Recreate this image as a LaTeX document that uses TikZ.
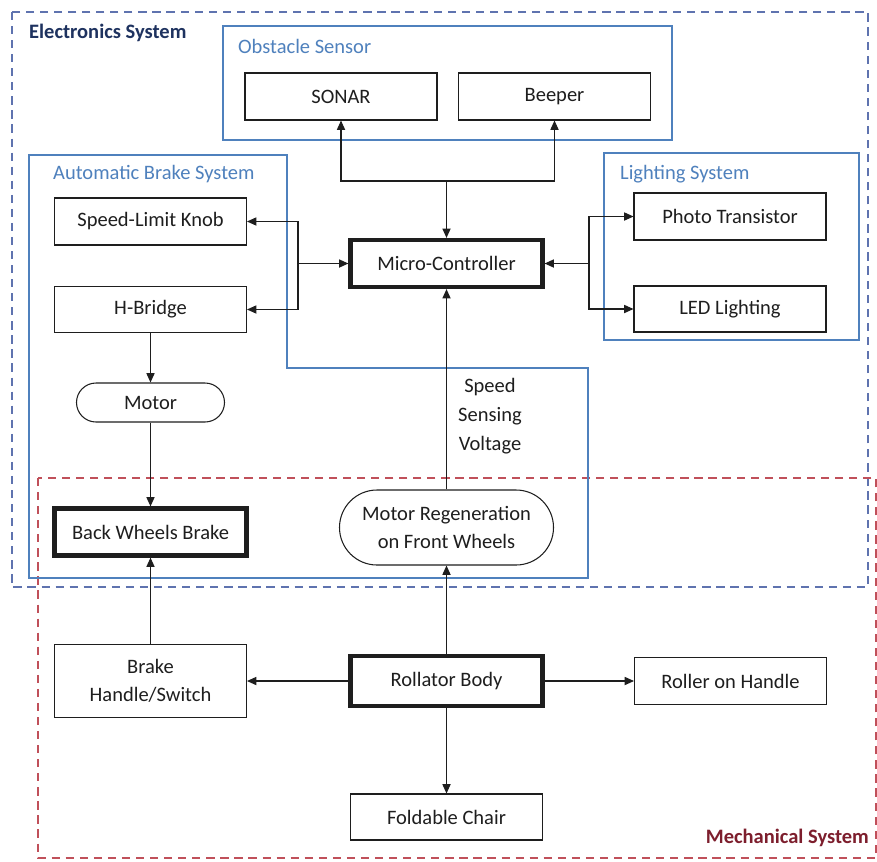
\documentclass[tikz,border=0pt]{standalone}
\usepackage{fontspec}
\setmainfont{Carlito}
\usetikzlibrary{arrows.meta}

\definecolor{elecblue}{RGB}{95,115,175}
\definecolor{groupblue}{RGB}{79,129,189}
\definecolor{mechred}{RGB}{192,80,90}
\definecolor{elecnavy}{RGB}{30,50,95}
\definecolor{mechdark}{RGB}{125,30,45}
\definecolor{boxgray}{RGB}{30,30,30}

\tikzset{
  blockbox/.style={draw=boxgray, line width=0.9pt, minimum width=5.76cm, minimum height=1.41cm,
    text=boxgray, font=\fontsize{17.5}{24}\selectfont, align=center, inner sep=0pt},
  keybox/.style={blockbox, line width=3.6pt},
  conn/.style={draw=boxgray, line width=0.9pt, -{Triangle[length=8pt,width=7pt]}},
  grouplabel/.style={anchor=west, text=groupblue, font=\fontsize{17.5}{20}\selectfont},
  groupframe/.style={draw=groupblue, line width=1.3pt},
}

\begin{document}
\begin{tikzpicture}[x=0.03cm, y=-0.03cm]
    \useasboundingbox[fill=white] (0,0) rectangle (877,861);

    % System frames (dashed)
    \draw[elecblue, line width=1.3pt, dash pattern=on 7pt off 5pt] (12,12) rectangle (868,587);
    \draw[mechred, line width=1.3pt, dash pattern=on 7pt off 5pt] (38,478) rectangle (876,858);
    \node[anchor=west, text=elecnavy, font=\fontsize{17.5}{20}\selectfont\bfseries] (elec) at (25,33) {Electronics System};
    \node[anchor=east, text=mechdark, font=\fontsize{17.5}{20}\selectfont\bfseries] (mech) at (873,838) {Mechanical System};

    % Sub-system frames
    \draw[groupframe] (223,26) rectangle (672,140);
    \draw[groupframe] (29,155) -- (287,155) -- (287,368) -- (588,368) -- (588,578) -- (29,578) -- cycle;
    \draw[groupframe] (604,153) rectangle (859,340);
    \node[grouplabel] (obslbl) at (234,46) {Obstacle Sensor};
    \node[grouplabel] (abslbl) at (49,174) {Automatic Brake System};
    \node[grouplabel] (litlbl) at (616,174) {Lighting System};

    % Blocks
    \node[blockbox] (sonar) at (341,96.5) {SONAR};
    \node[blockbox] (beeper) at (554.5,96.5) {Beeper};
    \node[blockbox] (knob) at (150.5,221.5) {Speed-Limit Knob};
    \node[blockbox, minimum height=1.38cm] (hbridge) at (150.5,309.5) {H-Bridge};
    \node[blockbox, minimum width=4.44cm, minimum height=1.17cm, rounded corners=0.585cm] (motor) at (150.5,402.5) {Motor};
    \node[keybox] (mc) at (446.5,263.5) {Micro-Controller};
    \node[blockbox] (photo) at (730,216.5) {Photo Transistor};
    \node[blockbox, minimum height=1.38cm] (led) at (730,309) {LED Lighting};
    \node[keybox] (bwb) at (150.5,532) {Back Wheels Brake};
    \node[blockbox, minimum width=6.42cm, minimum height=2.25cm, rounded corners=1.125cm] (regen) at (446.5,527.5) {Motor Regeneration\\on Front Wheels};
    \node[blockbox, minimum height=2.19cm] (brake) at (150.5,681) {Brake\\Handle/Switch};
    \node[keybox, minimum height=1.5cm] (rollator) at (446.5,681) {Rollator Body};
    \node[blockbox] (roller) at (730.5,681) {Roller on Handle};
    \node[blockbox, minimum height=1.38cm] (chair) at (446.5,817) {Foldable Chair};

    % Junctions
    \coordinate (jtop) at (446.5,181);
    \coordinate (jleft) at (298,263.5);
    \coordinate (jright) at (589,263.5);

    % Micro-Controller links
    \draw[conn] (jtop) -- (mc.north);
    \draw[conn] (jtop) -| (sonar.south);
    \draw[conn] (jtop) -| (beeper.south);
    \draw[conn] (jleft) -- (mc.west);
    \draw[conn] (jleft) |- (knob.east);
    \draw[conn] (jleft) |- (hbridge.east);
    \draw[conn] (jright) -- (mc.east);
    \draw[conn] (jright) |- (photo.west);
    \draw[conn] (jright) |- (led.west);

    % Brake chain
    \draw[conn] (hbridge) -- (motor);
    \draw[conn] (motor) -- (bwb);
    \draw[conn] (brake) -- (bwb);

    % Rollator body links
    \draw[conn] (rollator) -- (brake);
    \draw[conn] (rollator) -- (roller);
    \draw[conn] (rollator) -- (chair);
    \draw[conn] (rollator) -- (regen);
    \draw[conn] (regen) -- (mc);
    \node[text=boxgray, font=\fontsize{17.5}{25}\selectfont, align=center] (sensing) at (490,416) {Speed\\Sensing\\Voltage};
\end{tikzpicture}
\end{document}
